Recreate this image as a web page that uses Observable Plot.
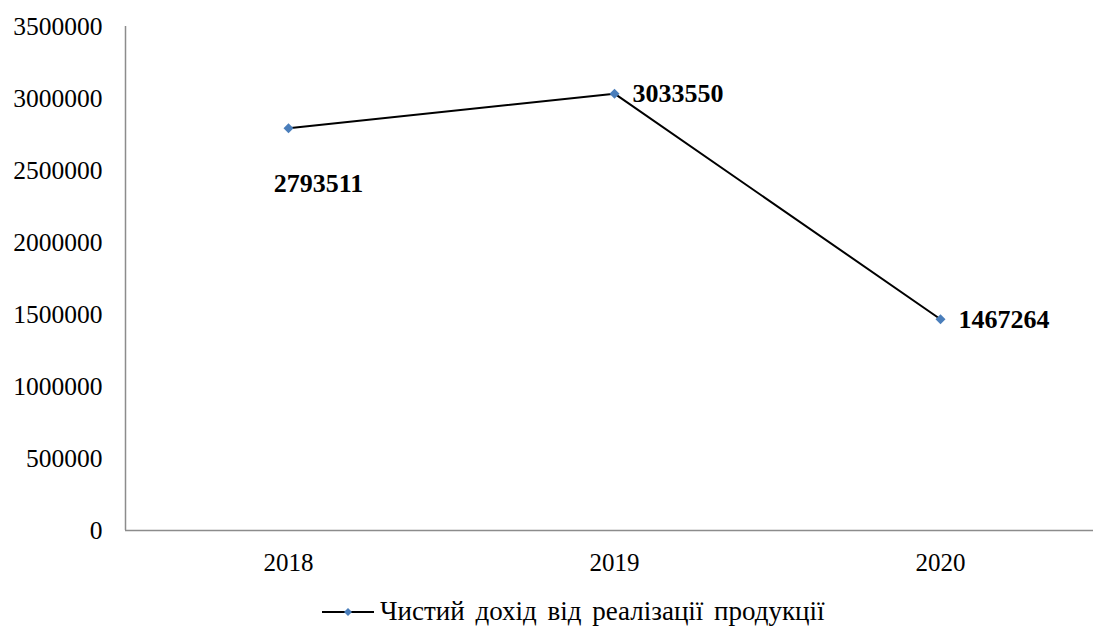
<!DOCTYPE html>
<html>
<head>
<meta charset="utf-8">
<script src="https://cdn.jsdelivr.net/npm/d3@7"></script>
<script src="https://cdn.jsdelivr.net/npm/@observablehq/plot@0.6"></script>
<style>
  body { margin: 0; background: #fff; font-family: "Liberation Serif", "Times New Roman", serif; }
  #wrap { position: relative; width: 1093px; height: 630px; }
  #legend { position: absolute; left: 322px; top: 596px; display: flex; align-items: center; font-family: "Liberation Serif", serif; font-size: 27px; word-spacing: 4px; color: #000; white-space: nowrap; }
  svg text { font-family: "Liberation Serif", serif; }
</style>
</head>
<body>
<div id="wrap">
  <div id="chart"></div>
  <div id="legend"></div>
</div>
<script>
const years = ["2018", "2019", "2020"];
const values = [2793511, 3033550, 1467264];
const yTicks = [0, 500000, 1000000, 1500000, 2000000, 2500000, 3000000, 3500000];
const seriesName = "Чистий дохід від реалізації продукції";

const data = years.map((y, i) => ({year: +y, value: values[i], label: String(values[i])}));

const lineColor = "#000000";
const markerColor = "#4a7ebb";
const axisColor = "#8c8c8c";
const serif = "Liberation Serif, serif";

const plot = Plot.plot({
  width: 1093,
  height: 595,
  marginLeft: 125,
  marginRight: 0,
  marginTop: 26,
  marginBottom: 65,
  style: {fontFamily: serif, fontSize: "25px", background: "#fff", color: "#000"},
  x: {type: "linear", domain: [2017.5, 2020.5], range: [125, 1103], label: null},
  y: {domain: [0, 3500000], label: null},
  marks: [
    Plot.axisX({ticks: years.map(Number), tickFormat: d => String(d), tickSize: 0, tickPadding: 23, fontSize: 25, fontFamily: serif, label: null}),
    Plot.axisY({ticks: yTicks, tickFormat: d => String(d), tickSize: 0, tickPadding: 23, fontSize: 25.5, fontFamily: serif, label: null}),
    Plot.ruleY([0], {stroke: axisColor, strokeWidth: 1.5}),
    Plot.ruleX([2017.5], {y1: 0, y2: 3500000, stroke: axisColor, strokeWidth: 1.5}),
    Plot.line(data, {x: "year", y: "value", stroke: lineColor, strokeWidth: 2}),
    Plot.dot(data, {x: "year", y: "value", symbol: "diamond2", r: 4.5, fill: markerColor, stroke: "none"}),
    Plot.text([data[0]], {x: "year", y: "value", text: "label", dx: 30, dy: 55, fontSize: 26, fontWeight: "bold", fontFamily: serif, textAnchor: "middle"}),
    Plot.text(data.slice(1), {x: "year", y: "value", text: "label", dx: 18, fontSize: 26, fontWeight: "bold", fontFamily: serif, textAnchor: "start"})
  ]
});
document.getElementById("chart").appendChild(plot);

const legend = document.getElementById("legend");
legend.innerHTML = `<svg width="52" height="14" style="margin-right:6px"><line x1="0" y1="7" x2="52" y2="7" stroke="${lineColor}" stroke-width="2"/><path d="M26,3 L30,7 L26,11 L22,7 Z" fill="${markerColor}"/></svg><span>${seriesName}</span>`;
</script>
</body>
</html>
